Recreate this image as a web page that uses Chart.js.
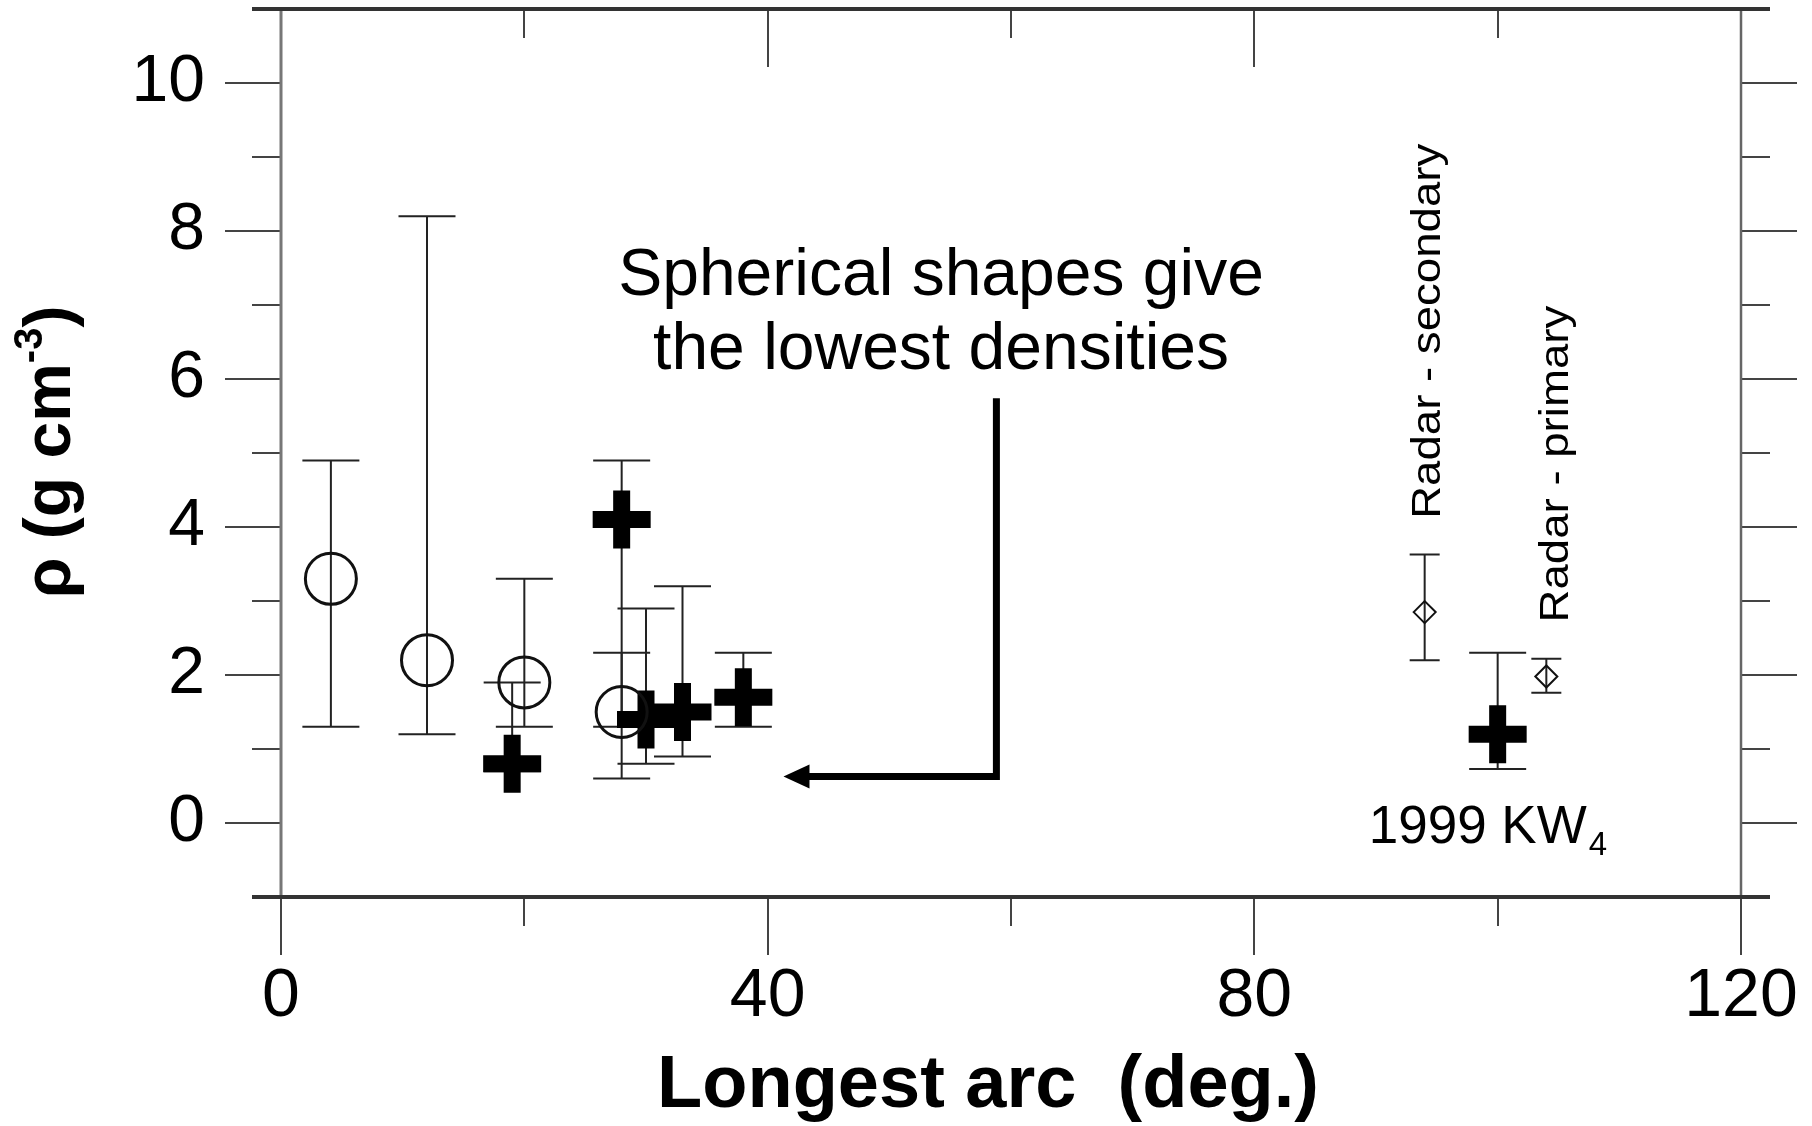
<!DOCTYPE html>
<html>
<head>
<meta charset="utf-8">
<script src="https://cdn.jsdelivr.net/npm/chart.js@4.4.1/dist/chart.umd.min.js"></script>
<style>
  html, body { margin: 0; padding: 0; background: #fff; }
</style>
</head>
<body>
<canvas id="densityChart" width="1812" height="1126"></canvas>
<script>
// Densities vs longest arc
const sphereArc = [4.1, 12.0, 20.0, 28.0];
const sphereRho = [3.3, 2.2, 1.9, 1.5];
const sphereLow = [1.3, 1.2, 1.3, 0.6];
const sphereHigh = [4.9, 8.2, 3.3, 2.3];

const shapeArc = [19.0, 28.0, 30.0, 33.0, 38.0, 100.0];
const shapeRho = [0.8, 4.1, 1.4, 1.5, 1.7, 1.2];
const shapeLow = [0.7, 1.3, 0.8, 0.9, 1.3, 0.73];
const shapeHigh = [1.9, 4.9, 2.9, 3.2, 2.3, 2.3];

const radarArc = [94.0, 104.0];
const radarRho = [2.85, 1.98];
const radarLow = [2.2, 1.76];
const radarHigh = [3.63, 2.22];
const radarNames = ['Radar - secondary', 'Radar - primary'];
const radarLabelArc = [95.3, 105.8];
const radarLabelRho = [4.11, 2.71];

const xStepTicks = [0, 20, 40, 60, 80, 100, 120];
const xLabelTicks = [0, 40, 80, 120];
const yLabelTicks = [0, 2, 4, 6, 8, 10];

const noteLines = ['Spherical shapes give', 'the lowest densities'];
const noteArc = 54.25;
const noteRho = [7.14, 6.13];
const arrowArc = [58.8, 58.8, 41.3];
const arrowRho = [5.74, 0.63, 0.63];

const FONT = "'Liberation Sans', Arial, Helvetica, sans-serif";

function toPoints(xs, ys) {
  return xs.map((x, i) => ({ x, y: ys[i] }));
}

// vertical error bars with caps, under the markers
const errorBars = {
  id: 'errorBars',
  beforeDatasetsDraw(chart) {
    const ctx = chart.ctx;
    const xs = chart.scales.x;
    const ys = chart.scales.y;
    ctx.save();
    ctx.strokeStyle = '#222';
    ctx.lineWidth = 2;
    chart.data.datasets.forEach((ds) => {
      const half = ds.capWidth / 2;
      ds.data.forEach((p, i) => {
        const px = xs.getPixelForValue(p.x);
        const lo = ys.getPixelForValue(ds.errLow[i]);
        const hi = ys.getPixelForValue(ds.errHigh[i]);
        ctx.beginPath();
        ctx.moveTo(px, lo);
        ctx.lineTo(px, hi);
        ctx.moveTo(px - half, lo);
        ctx.lineTo(px + half, lo);
        ctx.moveTo(px - half, hi);
        ctx.lineTo(px + half, hi);
        ctx.stroke();
      });
    });
    ctx.restore();
  },
};

// box frame with ticks like the original plot
const frame = {
  id: 'frame',
  afterDraw(chart) {
    const ctx = chart.ctx;
    const xs = chart.scales.x;
    const ys = chart.scales.y;
    const { left, right, top, bottom } = chart.chartArea;
    ctx.save();
    ctx.lineCap = 'butt';

    // y ticks on both sides
    for (let v = -1; v <= 11; v++) {
      const py = Math.round(ys.getPixelForValue(v));
      const len = v % 2 === 0 ? 56 : 29;
      ctx.strokeStyle = '#444';
      ctx.lineWidth = 2;
      ctx.beginPath();
      ctx.moveTo(left - len, py);
      ctx.lineTo(left, py);
      ctx.moveTo(right, py);
      ctx.lineTo(right + len, py);
      ctx.stroke();
    }

    // x ticks, bottom outward and top pointing down
    xStepTicks.forEach((v) => {
      const px = Math.round(xs.getPixelForValue(v));
      const len = xLabelTicks.includes(v) ? 58 : 29;
      ctx.strokeStyle = '#444';
      ctx.lineWidth = 2;
      ctx.beginPath();
      ctx.moveTo(px, bottom);
      ctx.lineTo(px, bottom + len);
      ctx.moveTo(px, top);
      ctx.lineTo(px, top + len);
      ctx.stroke();
    });

    // axis lines
    ctx.strokeStyle = '#777';
    ctx.lineWidth = 3;
    ctx.beginPath();
    ctx.moveTo(left, top);
    ctx.lineTo(left, bottom);
    ctx.stroke();

    ctx.strokeStyle = '#666';
    ctx.lineWidth = 2.5;
    ctx.beginPath();
    ctx.moveTo(right, top);
    ctx.lineTo(right, bottom);
    ctx.stroke();

    ctx.strokeStyle = '#333';
    ctx.lineWidth = 4;
    ctx.beginPath();
    ctx.moveTo(left - 29, bottom);
    ctx.lineTo(right + 29, bottom);
    ctx.moveTo(left - 29, top);
    ctx.lineTo(right + 29, top);
    ctx.stroke();

    ctx.restore();
  },
};

// titles, note, arrow and point labels
const notes = {
  id: 'notes',
  afterDraw(chart) {
    const ctx = chart.ctx;
    const xs = chart.scales.x;
    const ys = chart.scales.y;
    ctx.save();
    ctx.fillStyle = '#000';

    // x title
    ctx.font = `bold 74px ${FONT}`;
    ctx.textAlign = 'center';
    ctx.textBaseline = 'alphabetic';
    ctx.fillText('Longest arc  (deg.)', 988, 1107);

    // y title with superscript
    ctx.save();
    ctx.translate(70, 452);
    ctx.rotate(-Math.PI / 2);
    ctx.textAlign = 'left';
    const mainFont = `bold 66px ${FONT}`;
    const supFont = `bold 40px ${FONT}`;
    ctx.font = mainFont;
    const w1 = ctx.measureText('\u03c1 (g cm').width;
    const w3 = ctx.measureText(')').width;
    ctx.font = supFont;
    const w2 = ctx.measureText('-3').width;
    let cx = -(w1 + w2 + w3) / 2;
    ctx.font = mainFont;
    ctx.fillText('\u03c1 (g cm', cx, 0);
    cx += w1;
    ctx.font = supFont;
    ctx.fillText('-3', cx, -28);
    cx += w2;
    ctx.font = mainFont;
    ctx.fillText(')', cx, 0);
    ctx.restore();

    // note text
    ctx.font = `66px ${FONT}`;
    ctx.textAlign = 'center';
    noteLines.forEach((line, i) => {
      ctx.fillText(line, xs.getPixelForValue(noteArc), ys.getPixelForValue(noteRho[i]));
    });

    // elbow arrow
    const ax = arrowArc.map((v) => xs.getPixelForValue(v));
    const ay = arrowRho.map((v) => ys.getPixelForValue(v));
    ctx.strokeStyle = '#000';
    ctx.lineWidth = 7;
    ctx.lineJoin = 'miter';
    ctx.beginPath();
    ctx.moveTo(ax[0], ay[0]);
    ctx.lineTo(ax[1], ay[1]);
    ctx.lineTo(ax[2] + 20, ay[2]);
    ctx.stroke();
    ctx.beginPath();
    ctx.moveTo(ax[2], ay[2]);
    ctx.lineTo(ax[2] + 26, ay[2] - 12);
    ctx.lineTo(ax[2] + 26, ay[2] + 12);
    ctx.closePath();
    ctx.fill();

    // radar labels, rotated and a little stretched
    ctx.font = `40px ${FONT}`;
    ctx.textAlign = 'left';
    radarNames.forEach((name, i) => {
      ctx.save();
      ctx.translate(xs.getPixelForValue(radarLabelArc[i]), ys.getPixelForValue(radarLabelRho[i]));
      ctx.rotate(-Math.PI / 2);
      ctx.scale(1.14, 1);
      ctx.fillText(name, 0, 0);
      ctx.restore();
    });

    // 1999 KW4 label
    const kx = xs.getPixelForValue(89.4);
    const ky = ys.getPixelForValue(-0.27);
    ctx.font = `53px ${FONT}`;
    ctx.fillText('1999 KW', kx, ky);
    const kw = ctx.measureText('1999 KW').width;
    ctx.font = `33px ${FONT}`;
    ctx.fillText('4', kx + kw + 2, ky + 12);

    ctx.restore();
  },
};

const ctx = document.getElementById('densityChart').getContext('2d');
const chart = new Chart(ctx, {
  type: 'scatter',
  data: {
    datasets: [
      {
        label: 'Spherical',
        data: toPoints(sphereArc, sphereRho),
        errLow: sphereLow,
        errHigh: sphereHigh,
        capWidth: 57,
        pointStyle: 'circle',
        radius: 25.5,
        borderWidth: 3,
        borderColor: '#111',
        backgroundColor: 'rgba(0,0,0,0)',
      },
      {
        label: 'Shape models',
        data: toPoints(shapeArc, shapeRho),
        errLow: shapeLow,
        errHigh: shapeHigh,
        capWidth: 57,
        pointStyle: 'cross',
        radius: 29,
        borderWidth: 17,
        borderColor: '#000',
        backgroundColor: '#000',
      },
      {
        label: 'Radar',
        data: toPoints(radarArc, radarRho),
        errLow: radarLow,
        errHigh: radarHigh,
        capWidth: 30,
        pointStyle: 'rectRot',
        radius: 11,
        borderWidth: 2,
        borderColor: '#111',
        backgroundColor: 'rgba(0,0,0,0)',
      },
    ],
  },
  options: {
    responsive: false,
    animation: false,
    events: [],
    layout: {
      autoPadding: false,
      padding: { left: 0, top: 9, right: 71, bottom: 0 },
    },
    plugins: {
      legend: { display: false },
      tooltip: { enabled: false },
    },
    scales: {
      x: {
        type: 'linear',
        min: 0,
        max: 120,
        grid: { display: false, drawTicks: false },
        border: { display: false },
        afterFit: (scale) => {
          scale.height = 229;
          scale.paddingLeft = 0;
          scale.paddingRight = 0;
        },
        ticks: {
          stepSize: 20,
          autoSkip: false,
          maxRotation: 0,
          padding: 59,
          color: '#000',
          font: { family: FONT, size: 68 },
          callback: (v) => (xLabelTicks.includes(v) ? String(v) : ''),
        },
      },
      y: {
        type: 'linear',
        min: -1,
        max: 11,
        grid: { display: false, drawTicks: false },
        border: { display: false },
        afterFit: (scale) => {
          scale.width = 281;
          scale.paddingTop = 0;
          scale.paddingBottom = 0;
        },
        ticks: {
          stepSize: 1,
          autoSkip: false,
          padding: 76,
          color: '#000',
          font: { family: FONT, size: 66 },
          callback: (v) => (yLabelTicks.includes(v) ? String(v) : ''),
        },
      },
    },
  },
  plugins: [errorBars, frame, notes],
});
</script>
</body>
</html>
